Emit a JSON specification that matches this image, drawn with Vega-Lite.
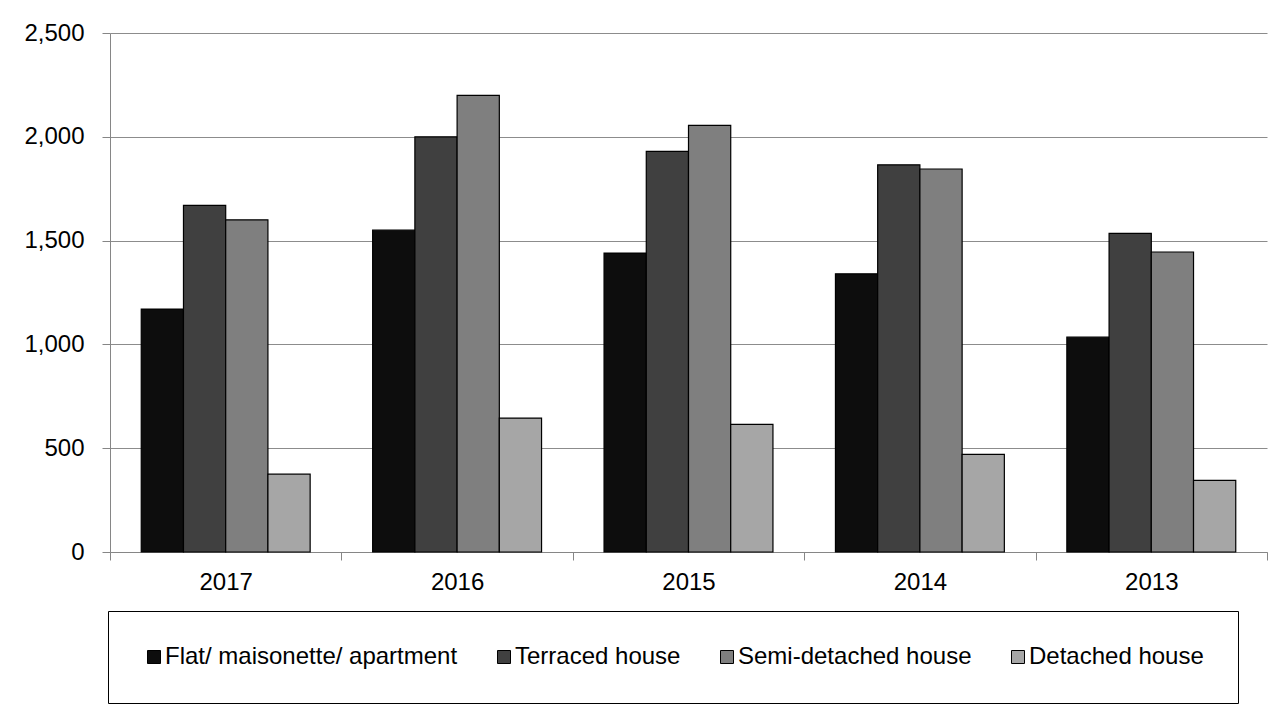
{
  "$schema": "https://vega.github.io/schema/vega-lite/v6.json",
  "autosize": {"type": "none"},
  "width": 1157,
  "height": 519,
  "padding": {"left": 110, "top": 33, "right": 21, "bottom": 161},
  "background": "white",
  "config": {
    "view": {"stroke": null},
    "font": "Liberation Sans",
    "axis": {"labelFont": "Liberation Sans", "labelFontSize": 24, "labelColor": "#000000"},
    "legend": {"labelFont": "Liberation Sans", "labelFontSize": 24, "labelColor": "#000000"}
  },
  "data": {
    "values": [
      {"year": "2017", "type": "Flat/ maisonette/ apartment", "value": 1170},
      {"year": "2017", "type": "Terraced house", "value": 1670},
      {"year": "2017", "type": "Semi-detached house", "value": 1600},
      {"year": "2017", "type": "Detached house", "value": 375},
      {"year": "2016", "type": "Flat/ maisonette/ apartment", "value": 1550},
      {"year": "2016", "type": "Terraced house", "value": 2000},
      {"year": "2016", "type": "Semi-detached house", "value": 2200},
      {"year": "2016", "type": "Detached house", "value": 645},
      {"year": "2015", "type": "Flat/ maisonette/ apartment", "value": 1440},
      {"year": "2015", "type": "Terraced house", "value": 1930},
      {"year": "2015", "type": "Semi-detached house", "value": 2055},
      {"year": "2015", "type": "Detached house", "value": 615},
      {"year": "2014", "type": "Flat/ maisonette/ apartment", "value": 1340},
      {"year": "2014", "type": "Terraced house", "value": 1865},
      {"year": "2014", "type": "Semi-detached house", "value": 1845},
      {"year": "2014", "type": "Detached house", "value": 470},
      {"year": "2013", "type": "Flat/ maisonette/ apartment", "value": 1035},
      {"year": "2013", "type": "Terraced house", "value": 1535},
      {"year": "2013", "type": "Semi-detached house", "value": 1445},
      {"year": "2013", "type": "Detached house", "value": 345}
    ]
  },
  "mark": {"type": "bar", "stroke": "#000000", "strokeWidth": 1.2},
  "encoding": {
    "x": {
      "field": "year",
      "type": "nominal",
      "sort": ["2017", "2016", "2015", "2014", "2013"],
      "scale": {"paddingInner": 0, "paddingOuter": 0},
      "axis": {
        "title": null,
        "labelAngle": 0,
        "tickBand": "extent",
        "domainColor": "#868686",
        "tickColor": "#868686",
        "tickSize": 8,
        "labelPadding": 10,
        "grid": false
      }
    },
    "xOffset": {
      "field": "type",
      "type": "nominal",
      "sort": ["Flat/ maisonette/ apartment", "Terraced house", "Semi-detached house", "Detached house"],
      "scale": {"paddingInner": 0, "paddingOuter": 0.74}
    },
    "y": {
      "field": "value",
      "type": "quantitative",
      "scale": {"domain": [0, 2500], "nice": false},
      "axis": {
        "title": null,
        "values": [0, 500, 1000, 1500, 2000, 2500],
        "format": ",.0f",
        "grid": true,
        "gridColor": "#8c8c8c",
        "gridWidth": 1,
        "domainColor": "#868686",
        "tickColor": "#868686",
        "tickSize": 8,
        "labelPadding": 18
      }
    },
    "color": {
      "field": "type",
      "type": "nominal",
      "sort": ["Flat/ maisonette/ apartment", "Terraced house", "Semi-detached house", "Detached house"],
      "scale": {
        "domain": ["Flat/ maisonette/ apartment", "Terraced house", "Semi-detached house", "Detached house"],
        "range": ["#0d0d0d", "#404040", "#7f7f7f", "#a6a6a6"]
      },
      "legend": {
        "title": null,
        "orient": "none",
        "direction": "horizontal",
        "legendX": -2,
        "legendY": 578,
        "padding": 34,
        "strokeColor": "#000000",
        "fillColor": "#ffffff",
        "symbolType": "square",
        "symbolSize": 169,
        "symbolStrokeColor": "#000000",
        "symbolStrokeWidth": 1,
        "symbolOpacity": 1,
        "labelOffset": -1,
        "columnPadding": 34,
        "labelLimit": 500
      }
    }
  }
}
